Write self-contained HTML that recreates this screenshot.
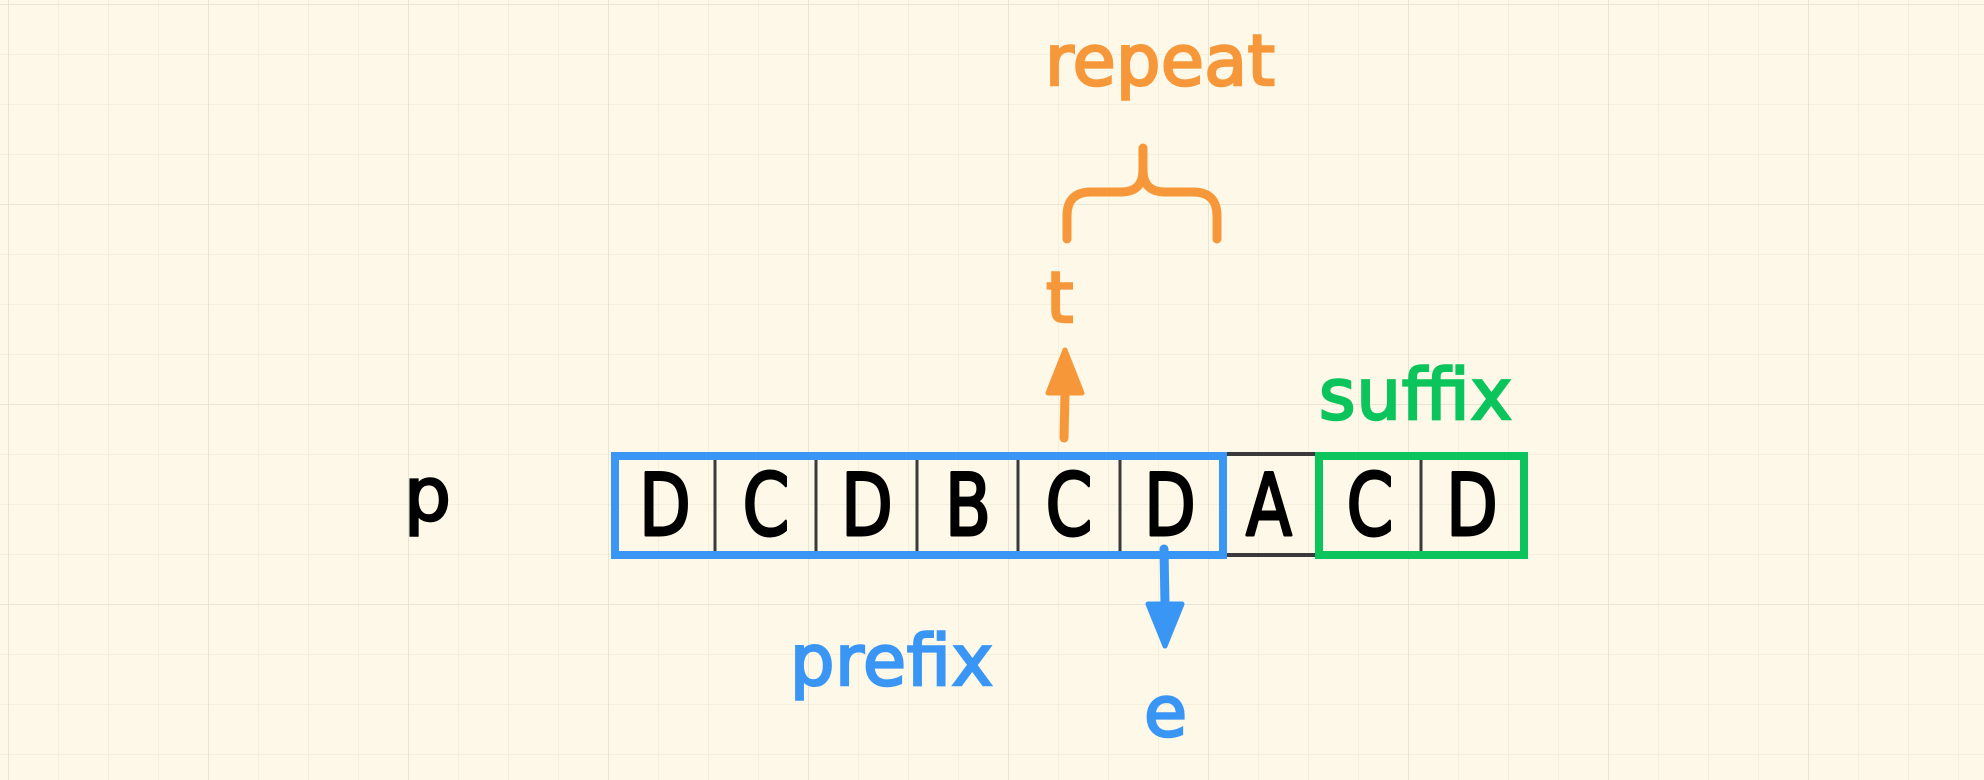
<!DOCTYPE html>
<html><head><meta charset="utf-8"><style>
html,body{margin:0;padding:0;width:1984px;height:780px;overflow:hidden;background:#fef8e8}
svg{display:block}
text{font-family:"DejaVu Sans","Liberation Sans",sans-serif}
</style></head><body>
<svg width="1984" height="780" viewBox="0 0 1984 780" xmlns="http://www.w3.org/2000/svg">
<defs>
<pattern id="minor" x="8" y="4" width="50" height="50" patternUnits="userSpaceOnUse">
<path d="M0 0V50M0 0H50" stroke="#f3ecd8" stroke-width="1.5" fill="none"/>
</pattern>
<pattern id="major" x="8" y="4" width="200" height="200" patternUnits="userSpaceOnUse">
<path d="M0 0V200M0 0H200" stroke="#e6e0d0" stroke-width="1.5" fill="none"/>
</pattern>
</defs>
<rect width="1984" height="780" fill="#fef8e8"/>
<rect width="1984" height="780" fill="url(#minor)"/>
<rect width="1984" height="780" fill="url(#major)"/>

<line x1="1223" y1="454" x2="1316" y2="454" stroke="#3a3a3a" stroke-width="4"/>
<line x1="1223" y1="555" x2="1316" y2="555" stroke="#3a3a3a" stroke-width="4"/>
<g stroke="#3a3a3a" stroke-width="3">
<line x1="715" y1="452" x2="715" y2="557"/>
<line x1="816" y1="452" x2="816" y2="557"/>
<line x1="917" y1="452" x2="917" y2="557"/>
<line x1="1018" y1="452" x2="1018" y2="557"/>
<line x1="1120" y1="452" x2="1120" y2="557"/>
<line x1="1421" y1="452" x2="1421" y2="557"/>
</g>
<rect x="615" y="456" width="608" height="99" fill="none" stroke="#3a96f5" stroke-width="8"/>
<rect x="1319" y="456" width="205" height="99" fill="none" stroke="#0bc55c" stroke-width="8"/>

<g font-size="86" fill="#000" stroke="#000" stroke-width="3" text-anchor="middle" stroke-linejoin="round">
<text transform="translate(665,535) scale(0.78,1)">D</text>
<text transform="translate(766,535) scale(0.78,1)">C</text>
<text transform="translate(867,535) scale(0.78,1)">D</text>
<text transform="translate(968,535) scale(0.78,1)">B</text>
<text transform="translate(1069,535) scale(0.78,1)">C</text>
<text transform="translate(1170,535) scale(0.78,1)">D</text>
<text transform="translate(1269,535) scale(0.78,1)">A</text>
<text transform="translate(1370,535) scale(0.78,1)">C</text>
<text transform="translate(1472,535) scale(0.78,1)">D</text>
</g>

<text x="404" y="520" font-size="74" fill="#000" stroke="#000" stroke-width="2.5">p</text>

<text x="1045" y="85" font-size="70" fill="#f6983a" stroke="#f6983a" stroke-width="2.5" textLength="230" lengthAdjust="spacing">repeat</text>
<path d="M1067 239V216Q1067 192 1091 192H1121Q1143 192 1143 170V148M1143 170Q1143 192 1165 192H1193Q1217 192 1217 216V239" fill="none" stroke="#f6983a" stroke-width="9" stroke-linecap="round"/>
<text x="1046" y="322" font-size="70" fill="#f6983a" stroke="#f6983a" stroke-width="2.5">t</text>
<line x1="1064" y1="438" x2="1065" y2="392" stroke="#f6983a" stroke-width="9" stroke-linecap="round"/>
<path d="M1065 350L1082 393H1048Z" fill="#f6983a" stroke="#f6983a" stroke-width="5" stroke-linejoin="round"/>

<text x="1319" y="419" font-size="70" fill="#0bc55c" stroke="#0bc55c" stroke-width="2.5" textLength="193" lengthAdjust="spacing">suffix</text>

<line x1="1164" y1="549" x2="1165" y2="605" stroke="#3a96f5" stroke-width="9" stroke-linecap="round"/>
<path d="M1165 646L1148 604H1182Z" fill="#3a96f5" stroke="#3a96f5" stroke-width="5" stroke-linejoin="round"/>
<text x="790" y="685" font-size="70" fill="#3a96f5" stroke="#3a96f5" stroke-width="2.5" textLength="203" lengthAdjust="spacing">prefix</text>
<text x="1144" y="736" font-size="70" fill="#3a96f5" stroke="#3a96f5" stroke-width="2.5">e</text>
</svg>
</body></html>
